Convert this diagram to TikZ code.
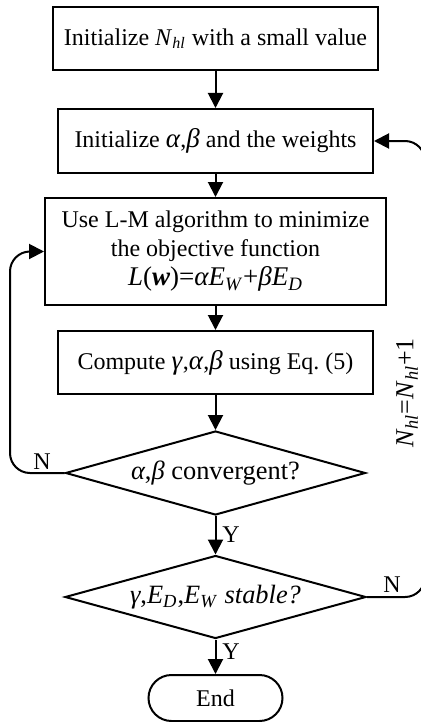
\documentclass[tikz,border=0pt]{standalone}
\usepackage{fontspec}
\setmainfont{Liberation Serif}
\usetikzlibrary{shapes.geometric,arrows.meta}
\newcommand{\vi}[1]{\textit{#1}}
\newcommand{\sbi}[1]{\textsubscript{\textit{#1}}}
% Greek symbols set slightly larger than the surrounding text
\newcommand{\gk}[1]{{\fontsize{13.5}{14.5}\selectfont\textit{#1}}}
\frenchspacing

\begin{document}
\begin{tikzpicture}[x=0.5pt,y=-0.5pt,
  font=\fontsize{12}{14.5}\selectfont,
  line width=1pt,
  procbox/.style={draw, rectangle, align=center, inner sep=0pt},
  decision/.style={draw, diamond, inner sep=0pt, aspect=3.57,
    font=\fontsize{13.2}{15}\selectfont},
  terminal/.style={draw, rectangle, rounded corners=11.5pt, inner sep=0pt},
  flow/.style={-{Triangle[length=7.5pt,width=7.5pt]}},
  lbl/.style={inner sep=0pt}]
\useasboundingbox (0,0) rectangle (420,722);

% process steps
\node[procbox, minimum width=162.5pt, minimum height=31.5pt] (b1) at (215.5,38.5)
  {Initialize \vi{N}\sbi{hl} with a small value};
\node[procbox, minimum width=157.5pt, minimum height=32pt] (b2) at (215.5,141)
  {Initialize \gk{α},\gk{β} and the weights};
\node[procbox, minimum width=170.5pt, minimum height=53.5pt] (b3) at (215.5,251.5)
  {Use L-M algorithm to minimize\\the objective function\\
   {\fontsize{13.5}{14.5}\selectfont\vi{L}(\textbf{\textit{w}})=\vi{αE}\sbi{W}+\vi{βE}\sbi{D}}};
\node[procbox, minimum width=157.5pt, minimum height=31.5pt] (b4) at (215.5,362.5)
  {Compute \gk{γ},\gk{α},\gk{β} using Eq. (5)};

% decisions
\node[decision, minimum width=150pt, minimum height=42pt] (d1) at (215.5,473)
  {\vi{α},\vi{β} convergent?};
\node[decision, minimum width=150.5pt, minimum height=41.5pt] (d2) at (215.5,597)
  {\vi{γ},\vi{E}\sbi{D},\vi{E}\sbi{W} \vi{stable?}};

% terminal
\node[terminal, minimum width=67pt, minimum height=23pt] (end) at (215.5,698) {End};

% main flow
\draw[flow] (b1) -- (b2);
\draw[flow] (b2) -- (b3);
\draw[flow] (b3) -- (b4);
\draw[flow] (b4) -- (d1);
\draw[flow] (d1) -- (d2);
\draw[flow] (d2) -- (end);

% feedback loops
\draw[flow, rounded corners=10pt] (d1.west) -- (10,473) -- (10,251.5) -- (b3.west);
\draw[flow, rounded corners=10pt] (d2.east) -- (425,597) -- (425,141) -- (b2.east);

% labels
\node[lbl] (nleft) at (42,462) {N};
\node[lbl] (nright) at (392,585) {N};
\node[lbl] (y1) at (231,535) {Y};
\node[lbl] (y2) at (231,652) {Y};
\node[lbl, rotate=90, font=\fontsize{13}{15}\selectfont] (inc) at (407,393)
  {\vi{N}\sbi{hl}=\vi{N}\sbi{hl}+1};
\end{tikzpicture}
\end{document}
